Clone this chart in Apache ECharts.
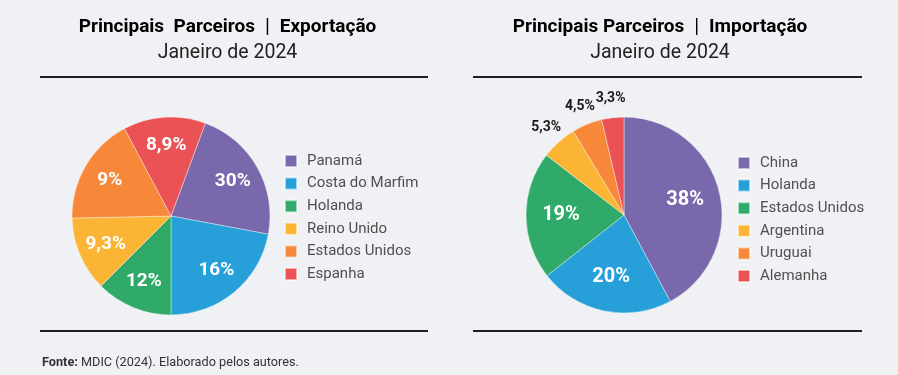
<!DOCTYPE html>
<html>
<head>
<meta charset="utf-8">
<script src="https://cdn.jsdelivr.net/npm/echarts@6/dist/echarts.min.js"></script>
<style>
  html, body { margin: 0; padding: 0; background: #eff1f4; }
  #main { width: 898px; height: 375px; }
</style>
</head>
<body>
<div id="main"></div>
<script>
var chart = echarts.init(document.getElementById('main'));

var FONT = 'Roboto';

// Exportação
var exportNames = ['Panamá', 'Costa do Marfim', 'Holanda', 'Reino Unido', 'Estados Unidos', 'Espanha'];
var exportShares = [30, 16, 12, 9.3, 9, 8.9];
// slice sizes as drawn in the reference (there the printed shares are not proportional)
var exportSlices = [80.3, 79.4, 45, 43.8, 63.2, 48.3];

// Importação
var importNames = ['China', 'Holanda', 'Estados Unidos', 'Argentina', 'Uruguai', 'Alemanha'];
var importShares = [38, 20, 19, 5.3, 4.5, 3.3];

var colors = ['#7a68ad', '#27a0d9', '#2faa69', '#fbb433', '#f7883a', '#eb5256'];

function pct(v) {
  return String(v).replace('.', ',') + '%';
}

function sliceData(names, sizes) {
  return names.map(function (n, i) {
    return { name: n, value: sizes[i], itemStyle: { color: colors[i] } };
  });
}

// transparent copy of a pie, only used to place the labels at a chosen radius
function labelData(names, sizes, shares, keep) {
  return names.map(function (n, i) {
    return { name: n, value: sizes[i], share: shares[i], label: { show: keep(shares[i]) } };
  });
}

function legendData(names) {
  return names.map(function (n, i) {
    return { name: n, itemStyle: { color: colors[i] } };
  });
}

var pieBase = {
  type: 'pie',
  silent: true,
  clockwise: true,
  labelLine: { show: false },
  labelLayout: { hideOverlap: false },
  emphasis: { disabled: true }
};

function mainPie(center, r, start, data) {
  return echarts.util.extend({
    center: center, radius: r, startAngle: start, data: data,
    label: { show: false },
    itemStyle: { borderColor: 'rgba(255,255,255,0.55)', borderWidth: 0.7 }
  }, pieBase);
}

function labelPie(center, r, start, data, color, size) {
  return echarts.util.extend({
    center: center, radius: r, startAngle: start, data: data,
    itemStyle: { color: 'rgba(0,0,0,0)' },
    label: {
      position: 'inside',
      color: color,
      fontFamily: FONT,
      fontWeight: 'bold',
      fontSize: size,
      formatter: function (p) { return pct(p.data.share); }
    }
  }, pieBase);
}

var legendBase = {
  orient: 'vertical',
  icon: 'rect',
  padding: 0,
  itemWidth: 12,
  itemHeight: 12,
  itemGap: 6.6,
  selectedMode: false,
  textStyle: { fontFamily: FONT, fontSize: 15, color: '#505050', lineHeight: 16, padding: [0, 0, 0, 5] }
};

var titleStyle = {
  rich: {
    b: { fontFamily: FONT, fontWeight: 'bold', fontSize: 19, color: '#222' },
    s: { fontFamily: FONT, fontWeight: 'normal', fontSize: 20, color: '#333' }
  }
};

function titleText(x, t1) {
  return [
    { type: 'text', x: x, y: 27.5, style: echarts.util.extend({ text: '{b|' + t1 + '}', align: 'center', verticalAlign: 'middle' }, titleStyle) },
    { type: 'text', x: x, y: 53, style: { text: 'Janeiro de 2024', align: 'center', verticalAlign: 'middle', fontFamily: FONT, fontSize: 19.5, fill: '#222' } }
  ];
}

function rule(x1, x2, y) {
  return { type: 'line', shape: { x1: x1, y1: y, x2: x2, y2: y }, style: { stroke: '#1e1e1e', lineWidth: 2 } };
}

var graphics = []
  .concat(titleText(227.5, 'Principais  Parceiros}{s|  |  }{b|Exportação'))
  .concat(titleText(660, 'Principais Parceiros}{s|  |  }{b|Importação'))
  .concat([
    rule(40, 428, 77), rule(473, 862, 77),
    rule(40, 428, 331), rule(473, 862, 331),
    {
      type: 'text', x: 42, y: 363,
      style: {
        text: '{f|Fonte:} MDIC (2024). Elaborado pelos autores.',
        verticalAlign: 'middle', fontFamily: FONT, fontSize: 12.7, fill: '#333',
        rich: { f: { fontFamily: FONT, fontWeight: 'bold', fontSize: 12.7, color: '#222' } }
      }
    }
  ]);

var option = {
  backgroundColor: '#eff1f4',
  animation: false,
  legend: [
    echarts.util.extend({ left: 284, top: 153, data: legendData(exportNames) }, legendBase),
    echarts.util.extend({ left: 737, top: 155, data: legendData(importNames) }, legendBase)
  ],
  graphic: graphics,
  series: [
    mainPie([171, 216], 99, 69.7, sliceData(exportNames, exportSlices)),
    labelPie([171, 216], 136, 69.7, labelData(exportNames, exportSlices, exportShares, function () { return true; }), '#fff', 19),
    mainPie([624, 215], 98, 90, sliceData(importNames, importShares)),
    labelPie([624, 215], 120, 90, labelData(importNames, importShares, importShares, function (v) { return v >= 10; }), '#fff', 20),
    labelPie([624, 215], 228, 90, labelData(importNames, importShares, importShares, function (v) { return v < 10; }), '#1a1a1a', 14)
  ]
};

chart.setOption(option);
</script>
</body>
</html>
